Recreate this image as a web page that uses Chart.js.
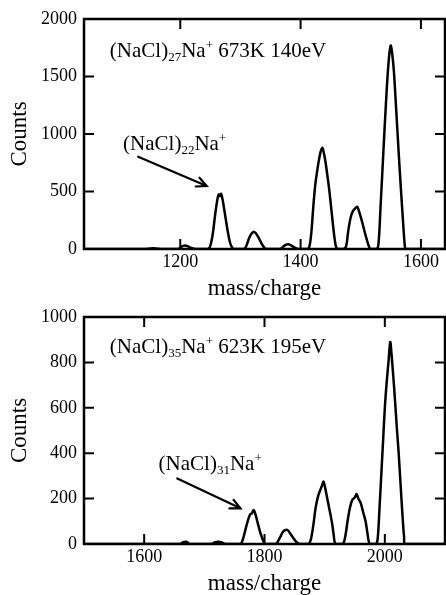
<!DOCTYPE html>
<html>
<head>
<meta charset="utf-8">
<script src="https://cdn.jsdelivr.net/npm/chart.js@4/dist/chart.umd.min.js"></script>
<style>
  html, body { margin: 0; padding: 0; background: #fff; }
  canvas { position: absolute; left: 0; }
  #c1 { top: 0; }
  #c2 { top: 298px; }
</style>
</head>
<body>
<canvas id="c1" width="446" height="300"></canvas>
<canvas id="c2" width="446" height="297"></canvas>
<script>
// top spectrum, (NaCl)27Na+ 673K 140eV
const topMass = [1040, 1140, 1148, 1155, 1162, 1170, 1196, 1202, 1207, 1212, 1218, 1226,
  1246, 1250, 1254, 1258, 1262, 1264, 1266, 1268, 1271, 1275, 1279, 1283, 1287, 1289,
  1306, 1310, 1314, 1318, 1322, 1325, 1329, 1333, 1337, 1341, 1344,
  1366, 1371, 1376, 1381, 1386, 1391, 1396,
  1412, 1415, 1418, 1421, 1424, 1427, 1430, 1433, 1436, 1438, 1441, 1444, 1447, 1450, 1453, 1456, 1458, 1460, 1462,
  1472, 1476, 1479, 1483, 1487, 1491, 1494, 1497, 1501, 1505, 1509, 1513, 1516,
  1527, 1530, 1533, 1536, 1539, 1542, 1545, 1548, 1550, 1552, 1555, 1558, 1561, 1564, 1567, 1570, 1573, 1575,
  1640];
const topCounts = [0, 0, 3, 6, 3, 0, 0, 20, 30, 25, 10, 0,
  0, 30, 130, 300, 440, 475, 460, 480, 410, 280, 150, 50, 5, 0,
  0, 30, 90, 130, 150, 140, 110, 70, 30, 5, 0,
  0, 20, 38, 40, 25, 10, 0,
  0, 30, 150, 360, 540, 660, 760, 840, 880, 850, 770, 660, 540, 400, 250, 110, 40, 5, 0,
  0, 30, 150, 270, 330, 355, 368, 330, 260, 180, 100, 30, 0,
  0, 80, 380, 680, 990, 1280, 1540, 1720, 1770, 1710, 1550, 1290, 1020, 750, 500, 260, 40, 0,
  0];
const topXTicks = [1200, 1400, 1600];
const topYTicks = [0, 500, 1000, 1500, 2000];

// bottom spectrum, (NaCl)35Na+ 623K 195eV
const bottomMass = [1500, 1660, 1665, 1670, 1676, 1712, 1718, 1724, 1730, 1735,
  1760, 1764, 1768, 1772, 1776, 1779, 1782, 1785, 1789, 1793, 1797, 1801,
  1819, 1823, 1827, 1831, 1835, 1839, 1843, 1847, 1851, 1855, 1858,
  1873, 1877, 1881, 1885, 1889, 1893, 1896, 1898, 1901, 1904, 1907, 1910, 1913, 1915, 1918,
  1930, 1934, 1938, 1942, 1946, 1950, 1953, 1956, 1960, 1964, 1968, 1971, 1975,
  1985, 1988, 1991, 1994, 1997, 2000, 2003, 2006, 2009, 2011, 2014, 2017, 2020, 2023, 2026, 2029, 2032, 2034,
  2100];
const bottomCounts = [0, 0, 8, 10, 0, 0, 8, 10, 6, 0,
  0, 20, 60, 100, 130, 135, 150, 130, 90, 50, 20, 0,
  0, 15, 35, 55, 62, 60, 45, 30, 15, 5, 0,
  0, 20, 80, 160, 210, 240, 260, 275, 245, 205, 165, 125, 80, 40, 0,
  0, 30, 100, 160, 195, 205, 220, 200, 180, 140, 100, 50, 0,
  0, 20, 150, 300, 450, 600, 710, 800, 890, 840, 740, 630, 510, 400, 270, 140, 30, 0,
  0];
const bottomXTicks = [1600, 1800, 2000];
const bottomYTicks = [0, 200, 400, 600, 800, 1000];

const topTitle = [['(NaCl)', 'n'], ['27', 'sub'], ['Na', 'n'], ['+', 'sup'], [' 673K 140eV', 'n']];
const topLabel = [['(NaCl)', 'n'], ['22', 'sub'], ['Na', 'n'], ['+', 'sup']];
const bottomTitle = [['(NaCl)', 'n'], ['35', 'sub'], ['Na', 'n'], ['+', 'sup'], [' 623K 195eV', 'n']];
const bottomLabel = [['(NaCl)', 'n'], ['31', 'sub'], ['Na', 'n'], ['+', 'sup']];

const serif = 'Liberation Serif';

// box + inward ticks on all four sides
const framePlugin = {
  id: 'frame',
  afterDatasetsDraw(chart) {
    const { ctx, chartArea: a, scales: { x, y } } = chart;
    ctx.save();
    ctx.strokeStyle = '#000';
    ctx.lineWidth = 2;
    ctx.beginPath();
    x.ticks.forEach(t => {
      const px = x.getPixelForValue(t.value);
      ctx.moveTo(px, a.bottom); ctx.lineTo(px, a.bottom - 10);
      ctx.moveTo(px, a.top); ctx.lineTo(px, a.top + 10);
    });
    y.ticks.forEach(t => {
      const py = y.getPixelForValue(t.value);
      ctx.moveTo(a.left, py); ctx.lineTo(a.left + 10, py);
      ctx.moveTo(a.right, py); ctx.lineTo(a.right - 10, py);
    });
    ctx.stroke();
    ctx.lineWidth = 2.5;
    ctx.strokeRect(a.left, a.top, a.width, a.height);
    ctx.restore();
  }
};

function drawRich(ctx, x, y, parts) {
  let cx = x;
  parts.forEach(([txt, kind]) => {
    let dy = 0;
    if (kind === 'n') ctx.font = '21px "' + serif + '"';
    else {
      ctx.font = '13px "' + serif + '"';
      dy = kind === 'sub' ? 4 : -8;
    }
    ctx.fillText(txt, cx, y + dy);
    cx += ctx.measureText(txt).width;
  });
}

// texts and arrow, placed in data coordinates
const notesPlugin = {
  id: 'notes',
  afterDraw(chart, args, opts) {
    const { ctx, scales: { x, y } } = chart;
    ctx.save();
    ctx.fillStyle = '#000';
    ctx.strokeStyle = '#000';
    ctx.textBaseline = 'alphabetic';
    ctx.textAlign = 'left';
    opts.texts.forEach(t => drawRich(ctx, x.getPixelForValue(t.at[0]), y.getPixelForValue(t.at[1]), t.parts));
    const x0 = x.getPixelForValue(opts.arrow[0]), y0 = y.getPixelForValue(opts.arrow[1]);
    const x1 = x.getPixelForValue(opts.arrow[2]), y1 = y.getPixelForValue(opts.arrow[3]);
    const ang = Math.atan2(y1 - y0, x1 - x0);
    const hl = 11, spread = 0.45;
    ctx.lineWidth = 2.2;
    ctx.lineCap = 'round';
    ctx.beginPath();
    ctx.moveTo(x0, y0);
    ctx.lineTo(x1, y1);
    ctx.moveTo(x1 - Math.cos(ang - spread) * hl, y1 - Math.sin(ang - spread) * hl);
    ctx.lineTo(x1, y1);
    ctx.lineTo(x1 - Math.cos(ang + spread) * hl, y1 - Math.sin(ang + spread) * hl);
    ctx.stroke();
    ctx.restore();
  }
};

function makeChart(id, mass, counts, xMin, xMax, xTicks, yMax, yTicks, notes, plotBottom) {
  const canvas = document.getElementById(id);
  return new Chart(canvas, {
    type: 'line',
    data: {
      datasets: [{
        data: mass.map((m, i) => ({ x: m, y: counts[i] })),
        borderColor: '#000',
        borderWidth: 2.5,
        pointRadius: 0,
        tension: 0.3,
        fill: false
      }]
    },
    options: {
      responsive: false,
      animation: false,
      layout: { padding: { top: 19, right: 1, left: 0, bottom: 0 } },
      plugins: { legend: { display: false }, tooltip: { enabled: false }, notes: notes },
      scales: {
        x: {
          type: 'linear',
          min: xMin,
          max: xMax,
          grid: { display: false, drawTicks: false },
          border: { display: false },
          afterBuildTicks: s => { s.ticks = xTicks.map(v => ({ value: v })); },
          afterFit: s => { s.height = canvas.height - plotBottom; },
          ticks: { padding: 2, maxRotation: 0, color: '#000', font: { family: serif, size: 18 },
                   callback: v => String(v) },
          title: { display: true, text: 'mass/charge', color: '#000', padding: 0,
                   font: { family: serif, size: 23, lineHeight: 1 } }
        },
        y: {
          min: 0,
          max: yMax,
          grid: { display: false, drawTicks: false },
          border: { display: false },
          afterBuildTicks: s => { s.ticks = yTicks.map(v => ({ value: v })); },
          afterFit: s => { s.width = 84; },
          ticks: { padding: 7, color: '#000', font: { family: serif, size: 18 },
                   callback: v => String(v) },
          title: { display: true, text: 'Counts', color: '#000', padding: { top: 8, bottom: 0 },
                   font: { family: serif, size: 23, lineHeight: 1 } }
        }
      }
    },
    plugins: [framePlugin, notesPlugin]
  });
}

makeChart('c1', topMass, topCounts, 1040, 1640, topXTicks, 2000, topYTicks, {
  texts: [{ at: [1083, 1670], parts: topTitle }, { at: [1105, 861], parts: topLabel }],
  arrow: [1130, 803, 1244, 548]
}, 249);

makeChart('c2', bottomMass, bottomCounts, 1500, 2100, bottomXTicks, 1000, bottomYTicks, {
  texts: [{ at: [1543, 840], parts: bottomTitle }, { at: [1624, 326], parts: bottomLabel }],
  arrow: [1655, 289, 1760, 157]
}, 246);
</script>
</body>
</html>
